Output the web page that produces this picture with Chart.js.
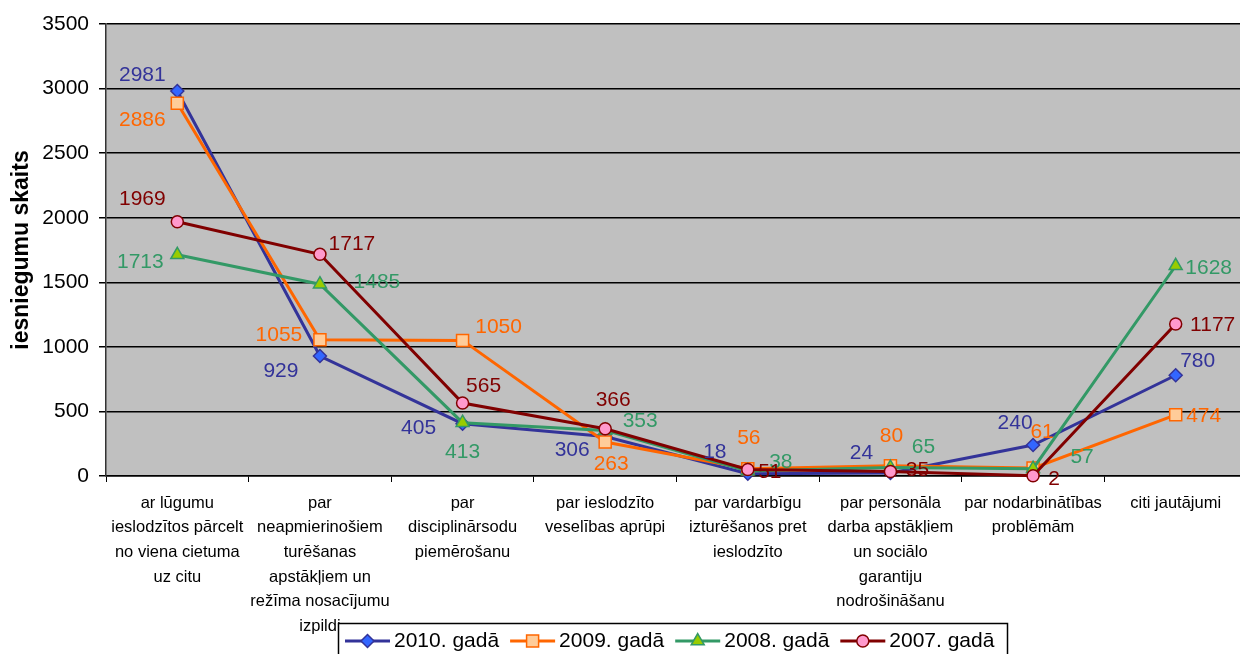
<!DOCTYPE html>
<html>
<head>
<meta charset="utf-8">
<script src="https://cdn.jsdelivr.net/npm/chart.js@4.4.1/dist/chart.umd.min.js"></script>
<style>
  html, body { margin: 0; padding: 0; overflow: hidden; width: 1240px; height: 654px; background: #fff; }
  #c { display: block; width: 1240px; height: 654px; }
</style>
</head>
<body>
<canvas id="c" width="1240" height="654"></canvas>
<script>
// ---- data ----
const categories = [
  ['ar lūgumu', 'ieslodzītos pārcelt', 'no viena cietuma', 'uz citu'],
  ['par', 'neapmierinošiem', 'turēšanas', 'apstākļiem un', 'režīma nosacījumu', 'izpildi'],
  ['par', 'disciplinārsodu', 'piemērošanu'],
  ['par ieslodzīto', 'veselības aprūpi'],
  ['par vardarbīgu', 'izturēšanos pret', 'ieslodzīto'],
  ['par personāla', 'darba apstākļiem', 'un sociālo', 'garantiju', 'nodrošināšanu'],
  ['par nodarbinātības', 'problēmām'],
  ['citi jautājumi']
];
const seriesNames = ['2010. gadā', '2009. gadā', '2008. gadā', '2007. gadā'];
const values2010 = [2981, 929, 405, 306, 18, 24, 240, 780];
const values2009 = [2886, 1055, 1050, 263, 56, 80, 61, 474];
const values2008 = [1713, 1485, 413, 353, 38, 65, 57, 1628];
const values2007 = [1969, 1717, 565, 366, 51, 35, 2, 1177];
const yTicks = [0, 500, 1000, 1500, 2000, 2500, 3000, 3500];
const yTitle = 'iesniegumu skaits';

// ---- styles (kept separate from data) ----
const styles = [
  { line: '#333399', fill: '#3366FF', label: '#333399', point: 'rectRot', r: 6.5 },
  { line: '#FF6600', fill: '#FFCC99', label: '#FF6600', point: 'rect', r: 8.5 },
  { line: '#339966', fill: '#99CC00', label: '#339966', point: 'triangle', r: 7.5 },
  { line: '#800000', fill: '#FF99CC', label: '#800000', point: 'circle', r: 6 }
];
// label offsets (px) from each point, per series
const labelOffsets = [
  [[-35,-16],[-39,15],[-44,5],[-33,14],[-33,-21],[-29,-20],[-18,-22],[22,-14]],
  [[-35,17],[-41,-5],[36,-13],[6,22],[1,-31],[1,-29],[9,-36],[28,1]],
  [[-37,7],[57,-2],[0,30],[35,-9],[33,-9],[33,-20],[49,-11],[33,2]],
  [[-35,-23],[32,-10],[21,-17],[8,-29],[22,3],[27,-1],[21,3],[37,1]]
];
// plot area extends slightly beyond the right edge of the picture (cropped, as in the original)
const PLOT_RIGHT = 1247;

const FONT = "'Liberation Sans', Arial, sans-serif";
const allValues = [values2010, values2009, values2008, values2007];

const datasets = allValues.map((vals, i) => ({
  label: seriesNames[i],
  data: vals,
  borderColor: styles[i].line,
  backgroundColor: styles[i].fill,
  borderWidth: 3,
  pointStyle: styles[i].point,
  pointRadius: styles[i].r,
  pointHoverRadius: styles[i].r,
  pointBackgroundColor: styles[i].fill,
  pointBorderColor: styles[i].line,
  pointBorderWidth: 1.5,
  tension: 0,
  fill: false,
  clip: false,
  order: 4 - i
}));

const extendArea = {
  id: 'extendArea',
  afterLayout(chart) {
    const xs = chart.scales.x;
    xs.right = PLOT_RIGHT;
    xs.width = xs.right - xs.left;
    xs.configure();
    const a = chart.chartArea;
    a.right = PLOT_RIGHT;
    a.width = a.right - a.left;
    const ys = chart.scales.y;
    if (ys) { ys.configure(); }
  }
};

const plotBg = {
  id: 'plotBg',
  beforeDraw(chart) {
    const { ctx, chartArea: a } = chart;
    ctx.save();
    ctx.fillStyle = '#C0C0C0';
    ctx.fillRect(a.left, a.top, a.right - a.left, a.bottom - a.top);
    ctx.restore();
  }
};

const valueLabels = {
  id: 'valueLabels',
  afterDatasetsDraw(chart) {
    const ctx = chart.ctx;
    ctx.save();
    ctx.font = '21px ' + FONT;
    ctx.textAlign = 'center';
    ctx.textBaseline = 'middle';
    chart.data.datasets.forEach((ds, i) => {
      const meta = chart.getDatasetMeta(i);
      ctx.fillStyle = styles[i].label;
      meta.data.forEach((pt, j) => {
        const o = labelOffsets[i][j];
        ctx.fillText(String(ds.data[j]), pt.x + o[0], pt.y + o[1]);
      });
    });
    ctx.restore();
  }
};

const boxLegend = {
  id: 'boxLegend',
  afterDraw(chart) {
    const ctx = chart.ctx;
    const left = 338, top = 623, right = 1007, bottom = 670;
    const cy = 641;
    ctx.save();
    ctx.fillStyle = '#fff';
    ctx.fillRect(left, top, right - left, bottom - top);
    ctx.strokeStyle = '#000';
    ctx.lineWidth = 1.5;
    ctx.strokeRect(left + 0.5, top + 0.5, right - left, bottom - top);
    ctx.font = '21px ' + FONT;
    ctx.textBaseline = 'middle';
    ctx.textAlign = 'left';
    let x = 345;
    seriesNames.forEach((name, i) => {
      const st = styles[i];
      ctx.strokeStyle = st.line;
      ctx.lineWidth = 3;
      ctx.beginPath();
      ctx.moveTo(x, cy);
      ctx.lineTo(x + 45, cy);
      ctx.stroke();
      ctx.fillStyle = st.fill;
      ctx.strokeStyle = st.line;
      ctx.lineWidth = 1.5;
      Chart.helpers.drawPoint(ctx, { pointStyle: st.point, radius: st.r, rotation: 0, borderWidth: 1.5 }, x + 22.5, cy);
      ctx.fillStyle = '#000';
      const tx = x + 49;
      ctx.fillText(name, tx, cy);
      x = tx + ctx.measureText(name).width + 11;
    });
    ctx.restore();
  }
};

new Chart(document.getElementById('c'), {
  type: 'line',
  data: { labels: categories, datasets },
  options: {
    responsive: false,
    maintainAspectRatio: false,
    animation: false,
    layout: { padding: { top: 24, left: 0, right: 0, bottom: 0 } },
    plugins: {
      legend: { display: false },
      tooltip: { enabled: false },
      title: { display: false }
    },
    scales: {
      x: {
        type: 'category',
        offset: true,
        grid: { display: true, drawOnChartArea: false, drawTicks: true, tickLength: 6, color: '#000', lineWidth: 1, offset: true },
        border: { display: true, color: '#000', width: 1.5 },
        ticks: {
          color: '#000',
          font: { family: FONT, size: 16.5, lineHeight: 1.49 },
          padding: 9,
          maxRotation: 0,
          minRotation: 0,
          autoSkip: false
        },
        afterFit(s) { s.height = 178; s.paddingLeft = 0; s.paddingRight = 0; }
      },
      y: {
        min: 0,
        max: 3500,
        afterBuildTicks(s) { s.ticks = yTicks.map(v => ({ value: v })); },
        grid: { color: '#000', lineWidth: 1.5, tickLength: 7, drawTicks: true },
        border: { display: true, color: '#333', width: 1.5 },
        ticks: {
          color: '#000',
          font: { family: FONT, size: 21 },
          padding: 10,
          callback: (v) => String(v)
        },
        title: {
          display: true,
          text: yTitle,
          color: '#000',
          font: { family: FONT, size: 23, weight: 'bold' },
          padding: { top: 8, bottom: 0 }
        },
        afterFit(s) { s.width = 106; }
      }
    }
  },
  plugins: [extendArea, plotBg, valueLabels, boxLegend]
});
</script>
</body>
</html>
